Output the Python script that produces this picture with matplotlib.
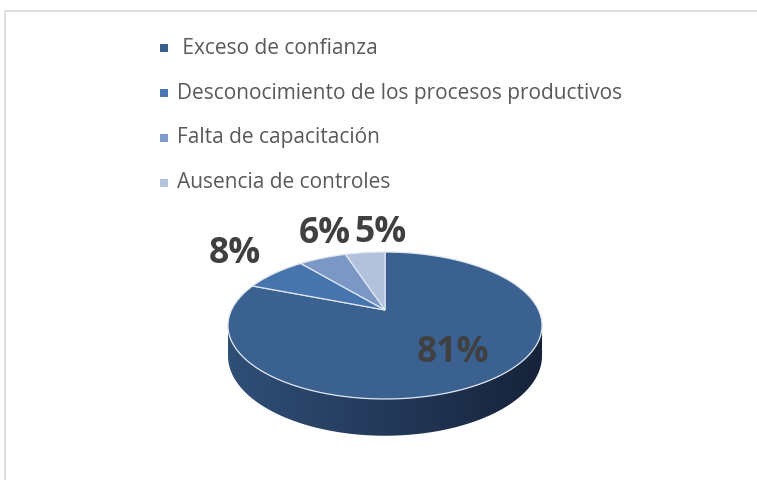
import numpy as np
import matplotlib
matplotlib.use("Agg")
import matplotlib.pyplot as plt
from matplotlib.patches import Polygon
from matplotlib.colors import LinearSegmentedColormap

# data
categories = [" Exceso de confianza",
              "Desconocimiento de los procesos productivos",
              "Falta de capacitación",
              "Ausencia de controles"]
values = [81, 8, 6, 5]
labels = ["81%", "8%", "6%", "5%"]

top_colors = ["#3a6190", "#4674ac", "#7a97c6", "#b2c2dd"]
legend_colors = ["#3a5f8f", "#4a78b4", "#7f9dcb", "#b4c4df"]

# 3d pie look (pixel units, y down)
cx, cy = 385, 310
sx, sy, k = 153.5, 70.2, 0.211
depth = 29


def proj(theta, r=1.0, z=0.0):
    # theta in degrees, clockwise from 12 o'clock (far side)
    t = np.radians(theta)
    u = r * np.sin(t)
    v = r * np.cos(t)
    w = 1 + k * v
    return cx + sx * u / w, cy - sy * v / w + z * depth / w


fig = plt.figure(figsize=(7.57, 4.8), dpi=100)
ax = fig.add_axes([0, 0, 1, 1])
ax.set_xlim(0, 757)
ax.set_ylim(480, 0)
ax.axis("off")

# frame of the chart area (top and left only)
ax.plot([5, 757], [11, 11], color="#d9d9d9", lw=1.2, solid_capstyle="butt")
ax.plot([5, 5], [11, 480], color="#d9d9d9", lw=1.2, solid_capstyle="butt")

# side wall (front half), gradient dark to the right
ta = np.degrees(np.arccos(-k))
tb = 360 - ta
arc = np.linspace(ta, tb, 200)
tx, ty = proj(arc)
bx, by = proj(arc[::-1], z=1)
side = np.column_stack([np.r_[tx, bx], np.r_[ty, by]])
side_patch = Polygon(side, closed=True, facecolor="none", edgecolor="none")
ax.add_patch(side_patch)
grad = LinearSegmentedColormap.from_list("side", ["#2f4f77", "#24395a", "#16233a"])
img = ax.imshow(np.linspace(0, 1, 256)[None, :], cmap=grad, aspect="auto",
                extent=(side[:, 0].min(), side[:, 0].max(),
                        side[:, 1].max(), side[:, 1].min()),
                interpolation="bilinear", zorder=2)
img.set_clip_path(side_patch)

# top face slices
total = sum(values)
start = 0.0
mids = []
for val, colr in zip(values, top_colors):
    span = 360.0 * val / total
    a = np.linspace(start, start + span, max(int(span * 2), 4))
    px, py = proj(a)
    pts = np.column_stack([np.r_[cx, px], np.r_[cy, py]])
    ax.add_patch(Polygon(pts, closed=True, facecolor=colr,
                         edgecolor="#dfe6f0", lw=0.9, zorder=3))
    mids.append(start + span / 2)
    start += span

renderer = fig.canvas.get_renderer()


def fit_size(txt, target, size, **kw):
    t = ax.text(0, 0, txt, fontsize=size, **kw)
    w = t.get_window_extent(renderer).width
    t.remove()
    return size * target / w


# data labels
lab_size = fit_size("81%", 72, 22, fontweight="bold", family="Open Sans")
label_r = [0.66, 1.42, 1.6, 1.55]
label_dx = [4, 0, 31, 24]
label_dy = [0, -6, 0, 4]
for lab, m, r, dx, dy in zip(labels, mids, label_r, label_dx, label_dy):
    lx, ly = proj(m, r)
    ax.text(lx + dx, ly + dy, lab, fontsize=lab_size, fontweight="bold",
            color="#404040", ha="center", va="center", family="Open Sans",
            zorder=5)

# legend
leg_size = fit_size(categories[1], 445, 13.5, family="Open Sans")
for i, (cat, colr) in enumerate(zip(categories, legend_colors)):
    yy = 48 + 45 * i
    ax.scatter([164], [yy], marker="s", s=30, color=colr, lw=0, zorder=5)
    ax.text(177, yy, cat, fontsize=leg_size, color="#595959", ha="left",
            va="center", family="Open Sans")

fig.savefig("out.png", dpi=100)
